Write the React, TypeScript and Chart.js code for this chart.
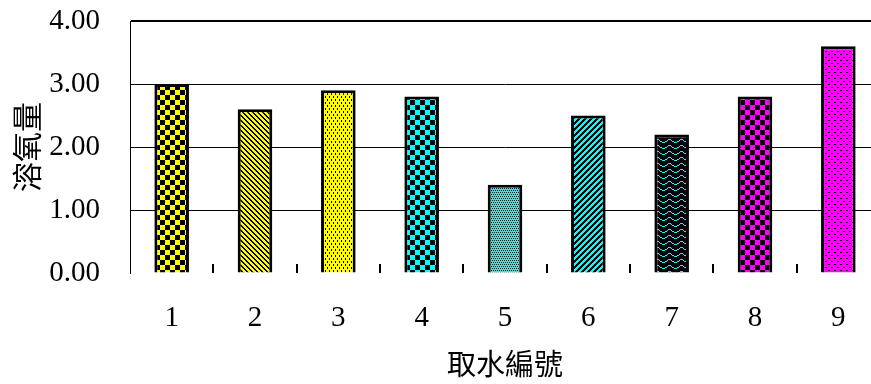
import { useEffect, useRef } from 'react';
import { Chart, registerables } from 'chart.js';

Chart.register(...registerables);

// Sampling points and dissolved-oxygen readings
const categories = ['1', '2', '3', '4', '5', '6', '7', '8', '9'];
const oxygenValues = [3.0, 2.6, 2.9, 2.8, 1.4, 2.5, 2.2, 2.8, 3.6];
const yMin = 0;
const yMax = 4;
const yStep = 1;
const xTitle = '取水編號';
const yTitle = '溶氧量';

const YELLOW = '#ffff00';
const CYAN = '#00ffff';
const MAGENTA = '#ff00ff';
const BLACK = '#000000';

type Painter = (g: CanvasRenderingContext2D, w: number, h: number) => void;

function tile(w: number, h: number, paint: Painter): HTMLCanvasElement {
  const c = document.createElement('canvas');
  c.width = w;
  c.height = h;
  const g = c.getContext('2d') as CanvasRenderingContext2D;
  paint(g, w, h);
  return c;
}

function checker(color: string, size: number) {
  return tile(size * 2, size * 2, (g, w, h) => {
    g.fillStyle = color;
    g.fillRect(0, 0, w, h);
    g.fillStyle = BLACK;
    g.fillRect(0, 0, size, size);
    g.fillRect(size, size, size, size);
  });
}

function pixelTile(w: number, h: number, bg: string, fg: string, on: (x: number, y: number) => boolean) {
  return tile(w, h, (g) => {
    g.fillStyle = bg;
    g.fillRect(0, 0, w, h);
    g.fillStyle = fg;
    for (let y = 0; y < h; y++) {
      for (let x = 0; x < w; x++) {
        if (on(x, y)) g.fillRect(x, y, 1, 1);
      }
    }
  });
}

function waves(bg: string, fg: string) {
  const w = 12;
  const h = 6;
  return pixelTile(w, h, bg, fg, (x, y) => {
    const wy = Math.round(2.5 + 1.6 * Math.sin((2 * Math.PI * x) / w));
    return y === wy;
  });
}

function buildFills(ctx: CanvasRenderingContext2D): CanvasPattern[] {
  const tiles = [
    checker(YELLOW, 5),
    pixelTile(5, 5, YELLOW, BLACK, (x, y) => ((x - y + 10) % 5) < 2),
    pixelTile(4, 6, YELLOW, BLACK, (x, y) => (x === 1 && (y === 0 || y === 1)) || (x === 3 && (y === 3 || y === 4))),
    checker(CYAN, 5),
    pixelTile(4, 4, CYAN, BLACK, (x, y) => (y === 0 && x % 2 === 0) || (y === 2 && x % 2 === 1)),
    pixelTile(6, 6, CYAN, BLACK, (x, y) => ((x + y) % 6) < 3),
    waves(BLACK, CYAN),
    checker(MAGENTA, 5),
    pixelTile(6, 6, MAGENTA, BLACK, (x, y) => (y === 0 && x < 2) || (y === 3 && (x === 3 || x === 4))),
  ];
  return tiles.map((t) => ctx.createPattern(t, 'repeat') as CanvasPattern);
}

// Short upward tick marks on the category boundaries along the base
const innerTicks = {
  id: 'innerTicks',
  afterDatasetsDraw(chart: any) {
    const xs = chart.scales.x;
    const bottom = chart.chartArea.bottom;
    const ctx = chart.ctx as CanvasRenderingContext2D;
    ctx.save();
    ctx.strokeStyle = BLACK;
    ctx.lineWidth = 2;
    for (let i = 1; i <= categories.length; i++) {
      const px = Math.round(xs.getPixelForValue(i - 0.5));
      ctx.beginPath();
      ctx.moveTo(px, bottom - 9);
      ctx.lineTo(px, bottom);
      ctx.stroke();
    }
    ctx.restore();
  },
};

export default function App() {
  const canvasRef = useRef<HTMLCanvasElement | null>(null);

  useEffect(() => {
    const canvas = canvasRef.current;
    if (!canvas) return;
    const ctx = canvas.getContext('2d') as CanvasRenderingContext2D;
    const fills = buildFills(ctx);

    const chart = new Chart(ctx, {
      type: 'bar',
      data: {
        labels: categories,
        datasets: [
          {
            data: oxygenValues,
            backgroundColor: fills,
            borderColor: BLACK,
            borderWidth: 3,
            barPercentage: 0.415,
            categoryPercentage: 1,
          },
        ],
      },
      plugins: [innerTicks],
      options: {
        responsive: false,
        animation: false,
        devicePixelRatio: 1,
        layout: { padding: { top: 21, left: 0, right: 0, bottom: 0 } },
        plugins: {
          legend: { display: false },
          tooltip: { enabled: false },
        },
        scales: {
          x: {
            grid: { display: false },
            border: { display: false },
            ticks: {
              color: BLACK,
              padding: 20,
              font: { family: "'Liberation Serif', serif", size: 29 },
            },
            title: {
              display: true,
              text: xTitle,
              color: BLACK,
              padding: { top: 0, bottom: 3 },
              font: { family: "'Noto Sans CJK TC', sans-serif", size: 29 },
            },
            afterFit(scale: any) {
              scale.height = 111;
            },
          },
          y: {
            min: yMin,
            max: yMax,
            grid: {
              drawTicks: true,
              tickLength: 27,
              tickColor: 'rgba(0,0,0,0)',
              color: (c: any) => (c.tick && c.tick.value === yMin ? 'rgba(0,0,0,0)' : BLACK),
              lineWidth: (c: any) => (c.tick && c.tick.value === yMax ? 2 : 1),
            },
            border: { display: true, color: BLACK, width: 1 },
            ticks: {
              stepSize: yStep,
              color: BLACK,
              padding: 3,
              font: { family: "'Liberation Serif', serif", size: 29 },
              callback: (v: any) => Number(v).toFixed(2),
            },
            title: {
              display: true,
              text: yTitle,
              color: BLACK,
              padding: { top: 9, bottom: 0 },
              font: { family: "'Noto Sans CJK TC', sans-serif", size: 30 },
            },
            afterFit(scale: any) {
              scale.width = 130;
            },
          },
        },
      },
    });

    return () => chart.destroy();
  }, []);

  return (
    <div
      style={{
        position: 'fixed',
        left: 0,
        top: 0,
        width: 871,
        height: 384,
        overflow: 'hidden',
        background: '#ffffff',
      }}
    >
      <canvas ref={canvasRef} width={880} height={384} style={{ display: 'block', width: 880, height: 384 }} />
    </div>
  );
}
